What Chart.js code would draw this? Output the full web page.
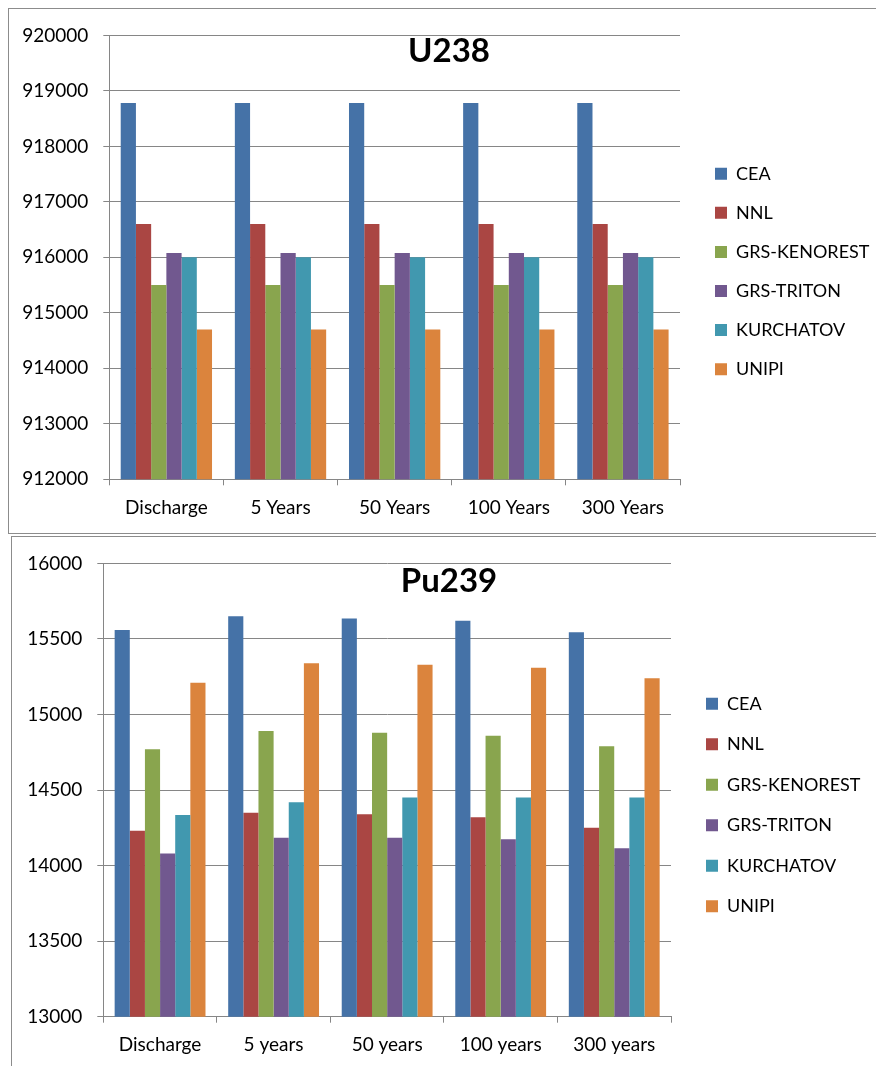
<!DOCTYPE html>
<html>
<head>
<meta charset="utf-8">
<script src="https://cdn.jsdelivr.net/npm/chart.js@4.4.0/dist/chart.umd.min.js"></script>
<style>
    body { margin: 0; background: #fff; overflow: hidden; }
    .box { position: absolute; border: 1px solid #8c8c8c; background: #fff; }
    #box1 { left: 8px; top: 8px; width: 880px; height: 524px; }
    #box2 { left: 11px; top: 536px; width: 874px; height: 540px; }
    canvas { display: block; }
</style>
</head>
<body>
<div class="box" id="box1"><canvas id="u238Chart" width="880" height="524"></canvas></div>
<div class="box" id="box2"><canvas id="pu239Chart" width="874" height="540"></canvas></div>
<script>
var groups = ['CEA', 'NNL', 'GRS-KENOREST', 'GRS-TRITON', 'KURCHATOV', 'UNIPI'];
var colors = ['#4572A7', '#AA4643', '#89A54E', '#71588F', '#4198AF', '#DB843D'];

// U238
var u238Labels = ['Discharge', '5 Years', '50 Years', '100 Years', '300 Years'];
var u238Cea = [918780, 918780, 918780, 918780, 918780];
var u238Nnl = [916600, 916600, 916600, 916600, 916600];
var u238Kenorest = [915500, 915500, 915500, 915500, 915500];
var u238Triton = [916080, 916080, 916080, 916080, 916080];
var u238Kurchatov = [916000, 916000, 916000, 916000, 916000];
var u238Unipi = [914700, 914700, 914700, 914700, 914700];

// Pu239
var pu239Labels = ['Discharge', '5 years', '50 years', '100 years', '300 years'];
var pu239Cea = [15560, 15650, 15635, 15620, 15545];
var pu239Nnl = [14230, 14350, 14340, 14320, 14250];
var pu239Kenorest = [14770, 14890, 14880, 14860, 14790];
var pu239Triton = [14080, 14185, 14185, 14175, 14115];
var pu239Kurchatov = [14335, 14420, 14450, 14450, 14450];
var pu239Unipi = [15210, 15340, 15330, 15310, 15240];

Chart.defaults.font.family = 'Lato';
Chart.defaults.color = '#000';

var gridColor = '#868686';

// title drawn inside the plot, like the original
var innerTitle = {
    id: 'innerTitle',
    afterDraw: function (chart, args, opts) {
        var ctx = chart.ctx;
        ctx.save();
        ctx.font = 'bold 33px Lato';
        ctx.fillStyle = '#000';
        ctx.textAlign = 'center';
        ctx.textBaseline = 'alphabetic';
        ctx.fillText(opts.text, chart.width / 2, opts.y);
        ctx.restore();
    }
};

// fixed legend width, then nudge the legend box
var legendFix = {
    id: 'legendFix',
    beforeInit: function (chart) {
        var fit = chart.legend.fit;
        chart.legend.fit = function () {
            fit.call(this);
            this.width = chart.options.plugins.legendFix.width;
        };
    },
    afterLayout: function (chart) {
        var o = chart.options.plugins.legendFix;
        chart.legend.left += o.dx;
        chart.legend.top += o.dy;
        chart.legend.bottom += o.dy;
    }
};

function datasets(series) {
    var result = [];
    for (var i = 0; i < groups.length; i++) {
        result.push({
            label: groups[i],
            data: series[i],
            backgroundColor: colors[i],
            borderWidth: 0,
            categoryPercentage: 0.8,
            barPercentage: 1.0
        });
    }
    return result;
}

function makeChart(id, title, labels, series, yMin, yMax, step, lay) {
    return new Chart(document.getElementById(id), {
        type: 'bar',
        data: {
            labels: labels,
            datasets: datasets(series)
        },
        options: {
            responsive: false,
            animation: false,
            layout: { padding: { top: lay.top, bottom: 0, left: 0, right: 0 } },
            scales: {
                x: {
                    grid: { drawOnChartArea: false, tickLength: 6, color: gridColor, offset: true },
                    border: { color: gridColor },
                    ticks: { font: { size: 19 }, padding: 11, maxRotation: 0 },
                    afterFit: function (scale) { scale.height = lay.xHeight; }
                },
                y: {
                    min: yMin,
                    max: yMax,
                    grid: { color: gridColor, tickLength: 6 },
                    border: { color: gridColor },
                    ticks: {
                        stepSize: step,
                        font: { size: 19 },
                        padding: 15,
                        callback: function (v) { return v; }
                    },
                    afterFit: function (scale) { scale.width = lay.yWidth; }
                }
            },
            plugins: {
                legend: {
                    position: 'right',
                    align: 'center',
                    labels: { boxWidth: 12, boxHeight: 12, padding: lay.legendPad, font: { size: 18 } }
                },
                tooltip: { enabled: false },
                innerTitle: { text: title, y: lay.titleY },
                legendFix: { width: lay.legendWidth, dx: 35 - lay.legendPad, dy: lay.legendDy }
            }
        },
        plugins: [innerTitle, legendFix]
    });
}

makeChart('u238Chart', 'U238', u238Labels,
    [u238Cea, u238Nnl, u238Kenorest, u238Triton, u238Kurchatov, u238Unipi],
    912000, 920000, 1000,
    { top: 23.3, xHeight: 53.7, yWidth: 100.3, legendWidth: 209, legendPad: 21.1, legendDy: -11.2, titleY: 53 });

makeChart('pu239Chart', 'Pu239', pu239Labels,
    [pu239Cea, pu239Nnl, pu239Kenorest, pu239Triton, pu239Kurchatov, pu239Unipi],
    13000, 16000, 500,
    { top: 24.7, xHeight: 60.3, yWidth: 91.3, legendWidth: 215, legendPad: 22.5, legendDy: -14.4, titleY: 55 });
</script>
</body>
</html>
